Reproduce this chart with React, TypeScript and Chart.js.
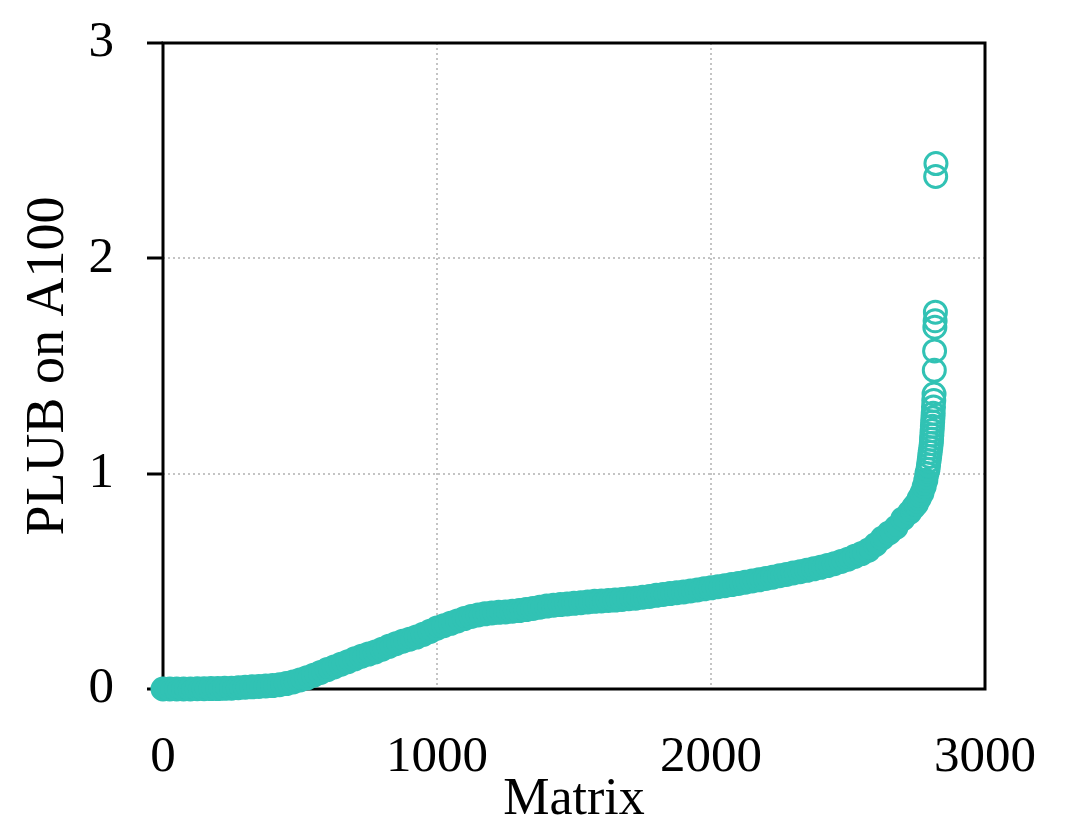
import React, { useEffect, useRef } from "react";
import { Chart, registerables } from "chart.js";

Chart.register(...registerables);

// Matrix index (sorted by PLUB) and PLUB value
const matrixIndex = [
  0, 25, 50, 75, 100, 125, 150, 175, 200, 225, 250, 275, 300, 325, 350, 375, 400, 425, 450, 475,
  500, 525, 550, 575, 600, 625, 650, 675, 700, 725, 750, 775, 800, 825, 850, 875, 900, 925, 950, 975,
  1000, 1025, 1050, 1075, 1100, 1125, 1150, 1175, 1200, 1225, 1250, 1275, 1300, 1325, 1350, 1375, 1400, 1425, 1450, 1475,
  1500, 1525, 1550, 1575, 1600, 1625, 1650, 1675, 1700, 1725, 1750, 1775, 1800, 1825, 1850, 1875, 1900, 1925, 1950, 1975,
  2000, 2025, 2050, 2075, 2100, 2125, 2150, 2175, 2200, 2225, 2250, 2275, 2300, 2325, 2350, 2375, 2400, 2425, 2450, 2475,
  2500, 2525, 2550, 2575, 2600, 2625, 2650, 2675, 2700, 2725, 2740, 2750, 2760, 2770, 2778, 2784, 2788,
  2792, 2794, 2796, 2798, 2800, 2802, 2804, 2805, 2806, 2807, 2808, 2809, 2810, 2811, 2812, 2813, 2814, 2815, 2816, 2817, 2818, 2819, 2820, 2821,
];

const plubValues = [
  0.000, 0.000, 0.000, 0.000, 0.000, 0.001, 0.001, 0.002, 0.002, 0.003, 0.004, 0.006, 0.008, 0.010, 0.012, 0.014, 0.016, 0.020, 0.025, 0.033,
  0.042, 0.052, 0.064, 0.077, 0.090, 0.102, 0.115, 0.127, 0.140, 0.152, 0.162, 0.172, 0.185, 0.198, 0.210, 0.222, 0.231, 0.241, 0.254, 0.268,
  0.283, 0.294, 0.305, 0.316, 0.327, 0.337, 0.344, 0.349, 0.353, 0.356, 0.358, 0.361, 0.364, 0.369, 0.374, 0.380, 0.385, 0.389, 0.392, 0.395,
  0.398, 0.401, 0.404, 0.407, 0.409, 0.411, 0.413, 0.416, 0.419, 0.422, 0.426, 0.430, 0.435, 0.439, 0.443, 0.447, 0.451, 0.455, 0.460, 0.465,
  0.470, 0.475, 0.480, 0.485, 0.490, 0.496, 0.502, 0.507, 0.513, 0.519, 0.526, 0.532, 0.539, 0.545, 0.551, 0.558, 0.565, 0.573, 0.582, 0.592,
  0.603, 0.616, 0.629, 0.645, 0.670, 0.700, 0.725, 0.750, 0.790, 0.820, 0.845, 0.860, 0.885, 0.910, 0.940, 0.970, 1.000,
  1.02, 1.04, 1.06, 1.08, 1.10, 1.12, 1.14, 1.16, 1.18, 1.20, 1.22, 1.24, 1.26, 1.28, 1.31, 1.34, 1.37, 1.48, 1.57, 1.68, 1.71, 1.75, 2.38, 2.44,
];

const xTicks = [0, 1000, 2000, 3000];
const yTicks = [0, 1, 2, 3];

const TEAL = "#31C2B4";
const FONT = "'Liberation Serif', 'Times New Roman', serif";

const boxPlugin = {
  id: "boxPlugin",
  beforeDatasetsDraw(chart: any) {
    const { ctx, chartArea } = chart;
    ctx.save();
    ctx.strokeStyle = "#000";
    ctx.lineWidth = 3;
    ctx.strokeRect(chartArea.left, chartArea.top, chartArea.right - chartArea.left, chartArea.bottom - chartArea.top);
    ctx.restore();
  },
};

export default function App() {
  const ref = useRef<HTMLCanvasElement | null>(null);

  useEffect(() => {
    if (!ref.current) return;
    const data = matrixIndex.map((x, i) => ({ x, y: plubValues[i] }));
    const chart = new Chart(ref.current, {
      type: "scatter",
      data: {
        datasets: [
          {
            data,
            borderColor: TEAL,
            backgroundColor: (c: any) => (c.raw && c.raw.y < 1.0 ? TEAL : "rgba(0,0,0,0)"),
            pointBackgroundColor: (c: any) => (c.raw && c.raw.y < 1.0 ? TEAL : "rgba(0,0,0,0)"),
            pointRadius: 11,
            pointBorderWidth: 3,
            clip: false as any,
          } as any,
        ],
      },
      options: {
        animation: false,
        responsive: false,
        events: [],
        layout: { padding: { top: 43, right: 105, left: 0, bottom: 0 } },
        plugins: { legend: { display: false }, tooltip: { enabled: false } },
        scales: {
          x: {
            type: "linear",
            min: 0,
            max: 3000,
            afterBuildTicks: (s: any) => {
              s.ticks = xTicks.map((v) => ({ value: v }));
            },
            afterFit: (s: any) => {
              s.height = 838 - 689;
            },
            grid: {
              color: (c: any) => (c.tick && (c.tick.value === 0 || c.tick.value === 3000) ? "rgba(0,0,0,0)" : "#c4c4c4"),
              lineWidth: 2,
              drawTicks: false,
            },
            border: { display: false, dash: [2, 3] },
            ticks: {
              color: "#000",
              font: { family: FONT, size: 51 },
              padding: 38,
              maxRotation: 0,
              callback: (v: any) => String(v),
            },
            title: {
              display: true,
              text: "Matrix",
              color: "#000",
              font: { family: FONT, size: 52 },
              padding: { top: 0, bottom: 6 },
            },
          },
          y: {
            type: "linear",
            min: 0,
            max: 3,
            afterBuildTicks: (s: any) => {
              s.ticks = yTicks.map((v) => ({ value: v }));
            },
            afterFit: (s: any) => {
              s.width = 163;
              s.paddingTop = 0;
              s.paddingBottom = 0;
            },
            grid: {
              color: (c: any) => (c.tick && (c.tick.value === 0 || c.tick.value === 3) ? "rgba(0,0,0,0)" : "#c4c4c4"),
              lineWidth: 2,
              drawTicks: true,
              tickLength: 16,
              tickWidth: 3,
              tickColor: "#000",
              tickBorderDash: [],
            } as any,
            border: { display: false, dash: [2, 3] },
            ticks: {
              color: "#000",
              font: { family: FONT, size: 51 },
              padding: 33,
              callback: (v: any) => String(v),
            },
            title: {
              display: true,
              text: "PLUB on A100",
              color: "#000",
              font: { family: FONT, size: 54 },
              padding: { top: 16, bottom: 0 },
            },
          },
        },
      },
      plugins: [boxPlugin],
    });
    return () => chart.destroy();
  }, []);

  return (
    <div style={{ position: "fixed", left: 0, top: 0, width: 1090, height: 838, background: "#fff" }}>
      <canvas ref={ref} width={1090} height={838} style={{ width: 1090, height: 838, display: "block" }} />
    </div>
  );
}
